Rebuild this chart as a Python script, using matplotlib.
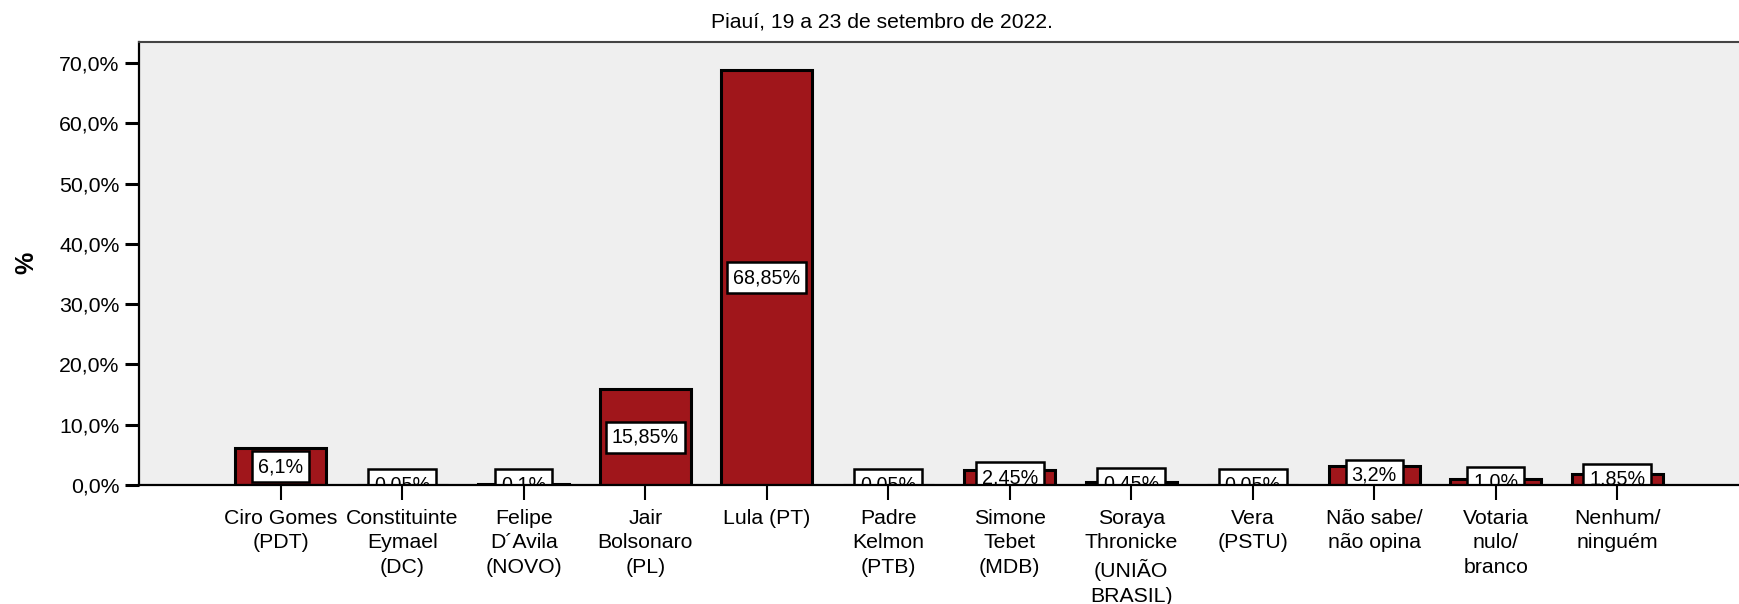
import numpy as np
import matplotlib
matplotlib.use("Agg")
import matplotlib.pyplot as plt
from matplotlib.ticker import FuncFormatter

plt.rcParams['font.family'] = ['Liberation Sans', 'DejaVu Sans']

# data
categories = ["Ciro Gomes\n(PDT)", "Constituinte\nEymael\n(DC)", "Felipe\nD´Avila\n(NOVO)",
              "Jair\nBolsonaro\n(PL)", "Lula (PT)", "Padre\nKelmon\n(PTB)",
              "Simone\nTebet\n(MDB)", "Soraya\nThronicke\n(UNIÃO\nBRASIL)", "Vera\n(PSTU)",
              "Não sabe/\nnão opina", "Votaria\nnulo/\nbranco", "Nenhum/\nninguém"]
values = [6.1, 0.05, 0.1, 15.85, 68.85, 0.05, 2.45, 0.45, 0.05, 3.2, 1.0, 1.85]
value_labels = ["6,1%", "0,05%", "0,1%", "15,85%", "68,85%", "0,05%",
                "2,45%", "0,45%", "0,05%", "3,2%", "1,0%", "1,85%"]
yticks = [0, 10, 20, 30, 40, 50, 60, 70]
title = "Piauí, 19 a 23 de setembro de 2022."

bar_color = "#A0161B"

fig = plt.figure(figsize=(17.4, 6.04), dpi=100)
ax = fig.add_axes([0.0799, 0.197, 0.9201, 0.7334])
ax.set_facecolor("#EFEFEF")

x = np.arange(len(categories))
ax.bar(x, values, width=0.75, color=bar_color, edgecolor="black", linewidth=2.2, zorder=2)

# value labels in the middle of each bar, clipped by the axes
for xi, v, lab in zip(x, values, value_labels):
    ax.text(xi, v / 2, lab, ha="center", va="center", fontsize=14.2, zorder=3,
            clip_on=True,
            bbox=dict(boxstyle="square,pad=0.3", facecolor="white",
                      edgecolor="black", linewidth=1.8))

ax.set_xlim(-1.167, 12.01)
ax.set_ylim(0, 73.5)
ax.set_yticks(yticks)
ax.yaxis.set_major_formatter(FuncFormatter(lambda v, p: f"{v:.1f}".replace(".", ",") + "%"))
ax.set_xticks(x)
ax.set_xticklabels(categories, fontsize=15.3, linespacing=1.38)
ax.tick_params(axis="y", labelsize=15.3, length=10, width=2.2, pad=4)
ax.tick_params(axis="x", length=11, width=1.5, pad=6)

ax.spines["right"].set_visible(False)
ax.spines["top"].set_color("#444444")
ax.spines["top"].set_linewidth(1.5)
ax.spines["left"].set_linewidth(1.6)
ax.spines["bottom"].set_linewidth(1.6)
ax.spines["bottom"].set_zorder(4)

fig.text(0.507, 1 - 22 / 604, title, ha="center", va="center", fontsize=15.2)
fig.text(0.015, 0.565, "%", ha="center", va="center", rotation=90,
         fontsize=18, fontweight="bold")

fig.savefig("out.png", dpi=100)
